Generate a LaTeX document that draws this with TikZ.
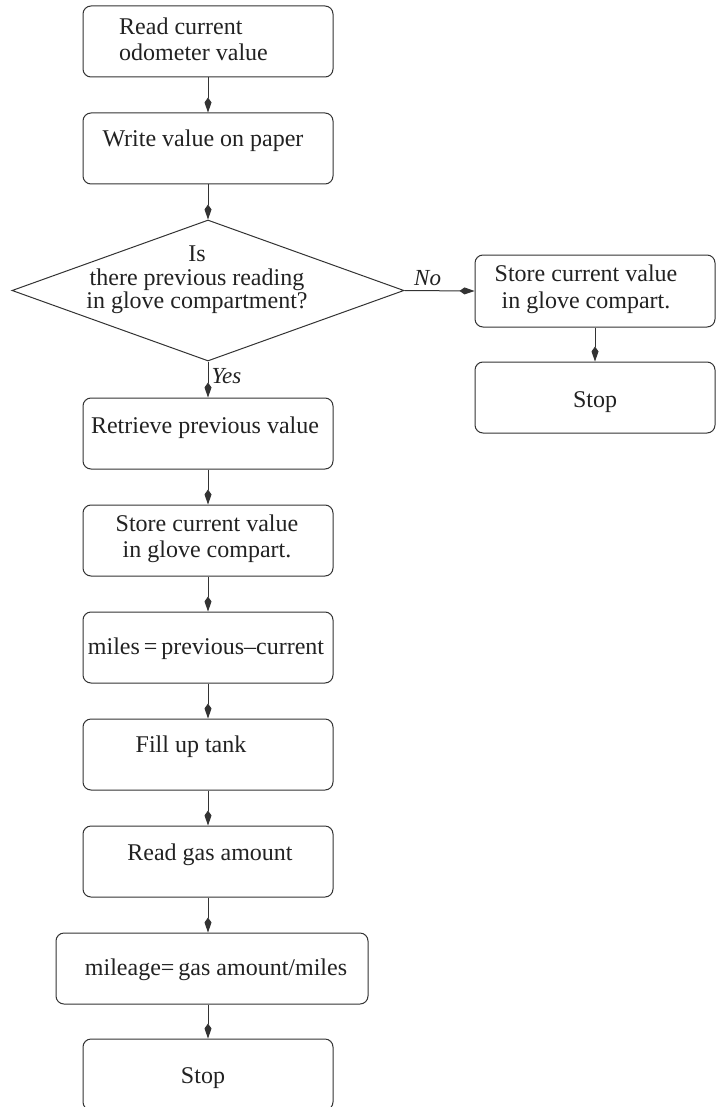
\documentclass[tikz,border=0pt]{standalone}
\usepackage{fontspec}
\setmainfont{Liberation Serif}
\usetikzlibrary{arrows.meta,shapes.geometric}
\definecolor{linec}{HTML}{333333}
\definecolor{textc}{HTML}{222222}
\begin{document}
\begin{tikzpicture}[x=1pt,y=-1pt,
  box/.style={draw=linec, line width=1pt, rounded corners=8pt, minimum width=250pt, minimum height=71pt, inner sep=0pt},
  dec/.style={draw=linec, line width=1pt, diamond, minimum width=392pt, minimum height=141pt, inner sep=0pt},
  txt/.style={font=\fontsize{24}{26}\selectfont, text=textc, inner sep=0pt},
  lbl/.style={font=\fontsize{23}{25}\selectfont\itshape, text=textc, inner sep=0pt},
  flow/.style={draw=linec, line width=1pt, -{Kite[length=15pt,width=7pt,inset=5pt]}}]
\useasboundingbox (0,0) rectangle (716,1107);
\clip (0,0) rectangle (716,1107);
\fill[white] (0,0) rectangle (716,1107);
% boxes
\node[box] (b1) at (208,41.5) {};
\node[box] (b2) at (208,148.5) {};
\node[dec] (d) at (208,290.5) {};
\node[box, minimum width=240pt, minimum height=72pt] (r1) at (595,291) {};
\node[box, minimum width=240pt] (r2) at (595,397.5) {};
\node[box] (b3) at (208,433.5) {};
\node[box] (b4) at (208,540.5) {};
\node[box] (b5) at (208,647.5) {};
\node[box] (b6) at (208,754.5) {};
\node[box] (b7) at (208,861.5) {};
\node[box, minimum width=312pt] (b8) at (212,968.5) {};
\node[box] (b9) at (208,1074.5) {};
% texts
\node[txt, anchor=west, align=left, font=\fontsize{24}{26}\selectfont] (t1) at (119,39) {Read current\\odometer value};
\node[txt] (t2) at (203,141) {Write value on paper};
\node[txt, align=center, font=\fontsize{24}{23.5}\selectfont] (td) at (197,280) {Is\\there previous reading\\in glove compartment?};
\node[txt, align=center, font=\fontsize{24}{27}\selectfont] (tr1) at (586,289) {Store current value\\in glove compart.};
\node[txt] (tr2) at (595,402) {Stop};
\node[txt] (t3) at (205,428) {Retrieve previous value};
\node[txt, align=center, font=\fontsize{24}{26}\selectfont] (t4) at (207,539) {Store current value\\in glove compart.};
\node[txt] (t5) at (206,649) {miles\,=\,previous--current};
\node[txt] (t6) at (191,747) {Fill up tank};
\node[txt] (t7) at (210,855) {Read gas amount};
\node[txt] (t8) at (216,970) {mileage=\,gas amount/miles};
\node[txt] (t9) at (203,1078) {Stop};
% connectors
\draw[flow] (b1) -- (b2);
\draw[flow] (b2) -- (d);
\draw[flow] (d.east) -- node[lbl, above=4pt, pos=0.33] (no) {No} (r1.west);
\draw[flow] (r1) -- (r2);
\draw[flow] (d.south) -- node[lbl, right=3pt, pos=0.4] (yes) {Yes} (b3.north);
\draw[flow] (b3) -- (b4);
\draw[flow] (b4) -- (b5);
\draw[flow] (b5) -- (b6);
\draw[flow] (b6) -- (b7);
\draw[flow] (b7.south) -- (b7.south |- b8.north);
\draw[flow] (b8.south -| b7.south) -- (b9.north);
\end{tikzpicture}
\end{document}
